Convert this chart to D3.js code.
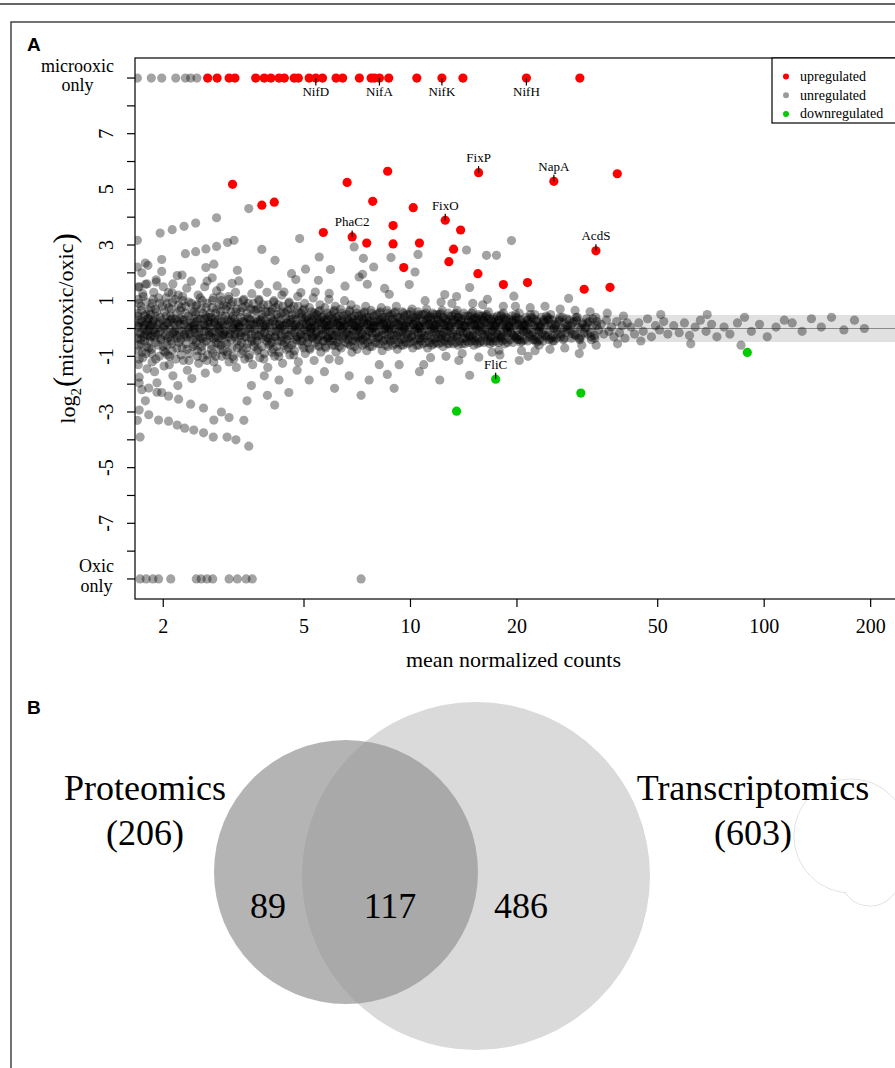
<!DOCTYPE html>
<html><head><meta charset="utf-8">
<script src="https://cdn.jsdelivr.net/npm/d3@7"></script>
<style>body{margin:0;background:#fff}</style>
</head><body>
<svg id="c" width="895" height="1068"></svg>
<script>
// ---------------- DATA ----------------
const xTicks = [2, 5, 10, 20, 50, 100, 200];
const yTicks = [-9,-8,-7,-6,-5,-4,-3,-2,-1,0,1,2,3,4,5,6,7,8,9];
const yTickLabels = {"-7":"-7","-5":"-5","-3":"-3","-1":"-1","1":"1","3":"3","5":"5","7":"7"};
const MICRO_ONLY = 9, OXIC_ONLY = -9;
const legendItems = ["upregulated", "unregulated", "downregulated"];

const microOnlyUnreg = [1.69,1.85,1.98,2.17,2.31,2.39,2.49];
const microOnlyUp = [2.67,2.84,3.07,3.19,3.65,3.86,4.03,4.25,4.40,4.69,4.82,5.17,5.40,5.64,6.16,6.43,7.17,7.74,7.91,8.17,8.68,10.42,12.27,14.07,21.27,30.12];
const oxicOnlyUnreg = [1.72,1.79,1.87,1.94,2.10,2.48,2.56,2.66,2.76,3.07,3.24,3.43,3.57,7.25];

const upregulated = [[3.14,5.18],[3.80,4.43],[4.12,4.54],[5.67,3.45],[6.62,5.25],[6.84,3.29],[7.52,3.07],[7.82,4.57],[8.62,5.65],[8.93,3.70],[8.93,3.04],[9.57,2.19],[10.18,4.34],[10.60,3.07],[12.54,3.89],[12.84,2.40],[13.24,2.85],[13.86,3.54],[15.51,1.97],[15.58,5.60],[18.31,1.58],[21.42,1.65],[25.43,5.29],[30.98,1.41],[33.44,2.79],[36.65,1.48],[38.43,5.56]];
const downregulated = [[13.50,-2.97],[17.41,-1.82],[30.31,-2.32],[89.6,-0.86]];

const labelledGenes = [["NifD",5.40,9],["NifA",8.17,9],["NifK",12.27,9],["NifH",21.27,9],["FixP",15.58,5.60],["NapA",25.43,5.29],["FixO",12.54,3.89],["PhaC2",6.84,3.29],["AcdS",33.44,2.79],["FliC",17.41,-1.82]];

const unregLow = [
[1.69,0.1],[1.69,-0.35],[1.69,0.55],[1.70,-0.8],[1.70,1.05],[1.70,-1.3],[1.71,1.5],[1.71,-1.75],[1.72,0.3],[1.72,-0.15],[1.73,0.8],[1.73,-0.55],[1.74,2.0],[1.74,-2.2],[1.75,1.25],[1.75,-1.05],[1.76,0.0],[1.77,0.45],[1.77,-0.45],[1.78,2.35],[1.78,-2.6],[1.79,0.95],[1.79,-0.9],[1.80,1.6],[1.80,-1.45],[1.81,0.2],[1.81,-0.25],[1.82,0.65],[1.82,-0.7],[1.69,3.17],[1.69,2.21],[1.70,1.49],[1.81,2.27],[1.78,1.59],[1.71,-1.96],[1.71,-2.93],[1.72,-3.9],[1.69,-3.3],
[1.83,0.05],[1.84,-0.3],[1.84,0.5],[1.85,-0.75],[1.86,0.9],[1.86,-1.2],[1.87,0.25],[1.88,-0.05],[1.88,1.3],[1.89,-1.55],[1.90,0.7],[1.90,-0.5],[1.91,1.75],[1.92,-1.95],[1.93,0.15],[1.93,-0.2],[1.94,1.1],[1.95,-1.0],[1.96,0.4],[1.97,-0.4],[1.98,2.05],[1.98,-2.3],[1.99,0.8],[2.00,-0.65],[2.00,1.5],[2.01,-1.35],[1.91,1.67],[1.98,2.48],[1.96,3.43],[1.82,-2.14],[1.92,-2.29],[1.82,-3.1],[1.94,-3.29],
[2.02,0.1],[2.03,-0.25],[2.04,0.45],[2.05,-0.6],[2.05,0.9],[2.06,-0.95],[2.07,1.3],[2.08,-1.3],[2.09,0.0],[2.10,0.3],[2.10,-0.45],[2.11,0.7],[2.12,-0.8],[2.13,1.6],[2.13,-1.7],[2.14,0.2],[2.15,-0.1],[2.16,1.05],[2.17,-1.1],[2.18,0.55],[2.19,-0.35],[2.19,1.9],[2.20,-2.05],[2.21,0.85],[2.12,1.28],[2.12,3.55],[2.26,1.92],[2.07,-2.43],[2.07,-3.33],[2.19,-3.47],[2.21,-2.54],
[2.22,-0.05],[2.23,0.35],[2.24,-0.4],[2.25,0.75],[2.26,-0.7],[2.27,1.15],[2.28,-1.15],[2.29,0.15],[2.30,-0.2],[2.31,0.55],[2.32,-0.55],[2.33,1.45],[2.34,-1.5],[2.35,0.0],[2.36,0.95],[2.37,-0.9],[2.38,0.3],[2.39,-0.3],[2.40,1.7],[2.41,-1.8],[2.42,0.6],[2.43,-0.65],[2.44,0.1],[2.29,3.67],[2.31,2.69],[2.39,-2.72],[2.30,-3.58],[2.44,-3.65],
[2.45,0.2],[2.46,-0.15],[2.47,0.5],[2.48,-0.5],[2.49,0.85],[2.50,-0.8],[2.51,1.2],[2.52,-1.25],[2.53,0.0],[2.54,0.35],[2.55,-0.35],[2.56,0.7],[2.57,-0.65],[2.58,1.0],[2.59,-1.05],[2.60,0.15],[2.61,-0.1],[2.62,1.5],[2.63,-1.6],[2.64,0.45],[2.65,-0.45],[2.66,0.9],[2.67,-0.95],[2.68,0.25],[2.69,-0.25],[2.47,3.79],[2.47,2.76],[2.64,2.86],[2.64,2.19],[2.66,1.70],[2.60,-2.86],[2.60,-3.75],
[2.71,0.05],[2.72,-0.3],[2.73,0.4],[2.74,-0.6],[2.75,0.75],[2.76,-0.9],[2.77,1.1],[2.78,-1.2],[2.79,0.2],[2.80,-0.1],[2.81,0.55],[2.82,-0.5],[2.83,1.35],[2.84,-1.45],[2.85,0.0],[2.86,0.3],[2.87,-0.35],[2.88,0.85],[2.89,-0.75],[2.90,0.6],[2.91,-0.6],[2.92,1.0],[2.93,-1.0],[2.94,0.15],[2.96,-0.2],[2.75,1.82],[2.78,2.31],[2.83,2.95],[2.83,3.98],[2.91,1.49],[2.77,-3.9],[2.78,-3.29],[2.92,-3.0],
[2.98,0.1],[2.99,-0.2],[3.00,0.45],[3.02,-0.55],[3.03,0.8],[3.04,-0.85],[3.06,1.15],[3.07,-1.2],[3.08,0.25],[3.10,-0.05],[3.11,0.6],[3.12,-0.4],[3.14,0.95],[3.15,-1.0],[3.16,0.0],[3.18,0.35],[3.19,-0.3],[3.20,1.3],[3.22,-1.4],[3.23,0.7],[3.24,-0.7],[3.25,0.15],[3.26,-0.15],[3.04,3.09],[3.13,1.62],[3.17,3.17],[3.24,2.09],[3.27,1.71],[3.03,-3.9],[3.21,-4.0],[3.07,-3.2],
[3.28,0.05],[3.30,-0.25],[3.31,0.4],[3.33,-0.5],[3.35,0.75],[3.36,-0.8],[3.38,1.05],[3.40,-1.1],[3.41,0.2],[3.43,-0.1],[3.45,0.55],[3.46,-0.55],[3.48,0.9],[3.50,-0.95],[3.51,0.0],[3.53,0.3],[3.55,-0.35],[3.56,1.25],[3.58,-1.3],[3.60,0.65],[3.61,-0.65],[3.49,4.31],[3.49,-4.23],[3.38,-3.3],[3.45,-2.6],[3.55,-2.05],
[3.62,0.1],[3.64,-0.2],[3.66,0.35],[3.68,-0.45],[3.70,0.7],[3.71,-0.75],[3.73,1.0],[3.75,-1.05],[3.77,0.2],[3.79,-0.05],[3.80,0.5],[3.82,-0.35],[3.84,0.85],[3.86,-0.9],[3.88,0.0],[3.89,0.3],[3.91,-0.3],[3.93,1.3],[3.95,-1.4],[3.96,0.6],[3.98,-0.6],[3.73,1.59],[3.80,2.84],[3.86,-1.7],[3.94,-2.4],
[3.99,0.05],[4.01,-0.25],[4.03,0.4],[4.05,-0.5],[4.07,0.7],[4.09,-0.75],[4.11,1.0],[4.13,-1.0],[4.15,0.15],[4.17,-0.1],[4.19,0.5],[4.21,-0.45],[4.23,0.85],[4.25,-0.85],[4.27,0.0],[4.29,0.3],[4.31,-0.3],[4.33,1.2],[4.35,-1.25],[4.37,0.6],[4.39,-0.6],[4.14,2.45],[4.20,1.53],[4.39,1.31],[4.25,-1.85],[4.13,-2.75],
[4.40,0.1],[4.42,-0.2],[4.45,0.35],[4.47,-0.4],[4.49,0.65],[4.52,-0.7],[4.54,0.95],[4.56,-0.95],[4.59,0.2],[4.61,-0.05],[4.63,0.5],[4.66,-0.5],[4.68,0.8],[4.70,-0.8],[4.73,0.0],[4.75,0.3],[4.77,-0.3],[4.80,1.15],[4.82,-1.2],[4.84,0.55],[4.61,1.97],[4.74,1.76],[4.86,3.23],[4.78,-1.5],[4.53,-2.3]
];

const unregMid = [
[4.86,0.05],[4.89,-0.25],[4.91,0.4],[4.94,-0.45],[4.96,0.65],[4.99,-0.7],[5.02,0.9],[5.04,-0.9],[5.07,0.15],[5.10,-0.1],[5.12,0.45],[5.15,-0.4],[5.18,0.75],[5.20,-0.75],[5.23,0.0],[5.26,0.25],[5.28,-0.3],[5.31,1.1],[5.34,-1.15],[5.35,0.55],[4.90,1.29],[5.05,2.13],[5.38,1.31],[5.17,-1.85],
[5.37,0.1],[5.40,-0.2],[5.43,0.35],[5.46,-0.4],[5.49,0.6],[5.52,-0.65],[5.55,0.85],[5.58,-0.85],[5.61,0.2],[5.64,-0.05],[5.67,0.45],[5.70,-0.45],[5.73,0.75],[5.76,-0.7],[5.79,0.0],[5.82,0.3],[5.85,-0.3],[5.88,1.05],[5.89,-1.1],[5.49,1.73],[5.52,2.57],[5.89,1.26],[5.71,-1.55],
[5.92,0.05],[5.95,-0.25],[5.99,0.35],[6.02,-0.45],[6.06,0.6],[6.09,-0.6],[6.13,0.8],[6.16,-0.85],[6.20,0.15],[6.23,-0.1],[6.27,0.45],[6.30,-0.4],[6.34,0.7],[6.37,-0.7],[6.41,0.0],[6.44,0.25],[6.48,-0.25],[6.51,1.0],[5.94,2.12],[6.53,1.52],[6.28,-1.15],[6.10,-2.15],
[6.55,0.1],[6.59,-0.2],[6.63,0.35],[6.67,-0.4],[6.71,0.6],[6.75,-0.6],[6.79,0.85],[6.83,-0.85],[6.87,0.2],[6.91,-0.05],[6.95,0.45],[6.99,-0.45],[7.03,0.7],[7.07,-0.75],[7.11,0.0],[7.14,0.3],[7.16,-0.3],[6.93,2.93],[7.16,1.85],[6.71,-1.7],
[7.20,0.05],[7.25,-0.25],[7.29,0.35],[7.34,-0.4],[7.38,0.55],[7.43,-0.55],[7.47,0.8],[7.52,-0.8],[7.56,0.15],[7.61,-0.1],[7.65,0.4],[7.70,-0.4],[7.74,0.65],[7.79,-0.65],[7.83,0.0],[7.88,0.25],[7.32,1.95],[7.36,2.52],[7.55,1.59],[7.87,2.21],[7.64,-1.85],[7.25,-2.4],
[7.95,0.1],[8.00,-0.2],[8.06,0.3],[8.11,-0.35],[8.16,0.55],[8.21,-0.55],[8.27,0.75],[8.32,-0.8],[8.37,0.2],[8.43,-0.05],[8.48,0.4],[8.53,-0.4],[8.59,0.65],[8.64,-0.65],[8.70,0.0],[8.45,1.44],[8.71,1.23],[8.16,-1.3],[8.60,-1.65],
[8.76,0.05],[8.82,-0.25],[8.88,0.35],[8.94,-0.4],[9.00,0.55],[9.06,-0.55],[9.12,0.8],[9.18,-0.75],[9.24,0.15],[9.30,-0.1],[9.36,0.4],[9.42,-0.4],[9.48,0.6],[9.54,-0.6],[9.60,0.0],[8.81,2.55],[8.99,-2.15],[9.29,-1.3],
[9.68,0.1],[9.75,-0.2],[9.81,0.3],[9.88,-0.35],[9.95,0.5],[10.0,-0.5],[10.1,0.7],[10.15,-0.7],[10.2,0.15],[10.28,-0.05],[10.35,0.4],[10.42,-0.4],[10.5,0.6],[10.55,-0.6],[10.6,0.0],[9.92,1.58],[10.3,2.03],[10.5,2.66],[10.6,-1.55],
[10.65,0.05],[10.73,-0.25],[10.8,0.3],[10.88,-0.35],[10.95,0.5],[11.03,-0.5],[11.1,0.7],[11.18,-0.7],[11.25,0.15],[11.33,-0.1],[11.4,0.4],[11.48,-0.4],[11.55,0.55],[11.63,-0.55],[11.7,0.0],[11.0,1.0],[11.4,-1.05],[10.9,-1.3],
[11.78,0.1],[11.86,-0.2],[11.95,0.3],[12.03,-0.35],[12.11,0.5],[12.2,-0.5],[12.28,0.65],[12.36,-0.65],[12.45,0.15],[12.53,-0.05],[12.62,0.35],[12.7,-0.35],[12.78,0.55],[12.87,-0.55],[12.1,-1.85],[12.5,1.22],[12.2,0.95],[12.6,-1.0],
[12.95,0.05],[13.05,-0.25],[13.15,0.3],[13.25,-0.3],[13.35,0.5],[13.45,-0.5],[13.55,0.65],[13.65,-0.6],[13.75,0.15],[13.85,-0.1],[13.95,0.35],[14.05,-0.35],[14.15,0.55],[14.25,-0.55],[13.7,-1.15],[13.1,0.9],[14.0,-0.9],[13.5,1.15],
[14.35,0.1],[14.45,-0.2],[14.56,0.3],[14.67,-0.3],[14.78,0.45],[14.89,-0.45],[15.0,0.6],[15.1,-0.6],[15.2,0.1],[15.3,-0.05],[15.4,0.35],[15.5,-0.35],[15.6,0.5],[15.7,-0.5],[14.4,2.82],[14.7,1.47],[14.7,-1.68],[15.6,-1.03],[15.0,0.9],
[15.8,0.05],[15.95,-0.2],[16.1,0.3],[16.2,-0.3],[16.35,0.45],[16.5,-0.45],[16.6,0.6],[16.75,-0.55],[16.9,0.1],[17.0,-0.05],[17.15,0.35],[17.3,-0.35],[16.4,2.63],[16.0,0.85],[17.0,-0.85],[16.5,1.05],
[17.4,0.1],[17.55,-0.2],[17.7,0.3],[17.85,-0.3],[18.0,0.45],[18.15,-0.45],[18.3,0.55],[18.5,-0.55],[18.65,0.05],[18.8,-0.1],[18.95,0.35],[17.5,2.63],[17.8,-0.78],[18.3,0.8],[17.9,-0.95],
[19.1,0.05],[19.3,-0.2],[19.5,0.3],[19.7,-0.3],[19.9,0.4],[20.1,-0.4],[20.3,0.55],[20.5,-0.5],[20.7,0.1],[20.9,-0.1],[19.3,3.16],[19.6,1.16],[20.3,-1.15],[19.8,0.8],[20.6,-0.8],
[21.1,0.1],[21.3,-0.15],[21.5,0.3],[21.75,-0.3],[22.0,0.4],[22.2,-0.4],[22.45,0.5],[22.7,-0.5],[22.9,0.05],[23.1,-0.05],[21.8,0.75],[22.5,-0.8],[21.5,-1.0],
[23.3,0.1],[23.6,-0.2],[23.85,0.3],[24.1,-0.3],[24.4,0.4],[24.65,-0.4],[24.9,0.5],[25.2,-0.45],[25.4,0.0],[23.1,-0.6],[24.0,0.8],[24.8,-0.75],
[25.7,0.1],[26.0,-0.2],[26.3,0.25],[26.6,-0.3],[26.9,0.4],[27.2,-0.35],[27.5,0.05],[27.8,-0.05],[28.1,0.3],[28.0,1.08],[26.5,0.7],[27.3,-0.7],
[28.4,0.1],[28.7,-0.2],[29.0,0.25],[29.3,-0.25],[29.6,0.4],[30.0,-0.35],[30.3,0.0],[30.6,0.2],[31.0,-0.15],[29.2,0.65],[30.5,-0.6],[30.0,-0.9],
[31.3,0.05],[31.7,-0.2],[32.0,0.25],[32.4,-0.3],[32.8,0.35],[33.2,-0.35],[33.6,0.1],[34.0,-0.05],[32.2,0.6],[33.5,-0.6]
];

const unregCore = [
[1.70,0.05],[1.72,-0.2],[1.74,0.25],[1.76,-0.3],[1.78,0.15],[1.80,-0.1],[1.81,0.35],[1.82,-0.05],
[1.84,0.1],[1.86,-0.25],[1.88,0.3],[1.9,-0.15],[1.92,0.0],[1.95,0.2],[1.97,-0.35],[2.0,0.05],
[2.03,-0.05],[2.06,0.2],[2.08,-0.3],[2.11,0.35],[2.13,-0.15],[2.16,0.1],[2.18,-0.25],[2.2,0.25],
[2.23,0.15],[2.26,-0.1],[2.29,0.3],[2.32,-0.3],[2.35,0.05],[2.38,-0.2],[2.41,0.2],[2.43,-0.05],
[2.46,0.0],[2.49,0.25],[2.52,-0.2],[2.55,0.1],[2.58,-0.35],[2.62,0.35],[2.65,-0.1],[2.68,0.15],
[2.72,0.2],[2.75,-0.15],[2.79,0.35],[2.82,-0.3],[2.86,0.05],[2.89,-0.05],[2.92,0.25],[2.95,-0.25],
[2.99,-0.1],[3.03,0.15],[3.07,-0.3],[3.11,0.3],[3.15,0.0],[3.19,-0.2],[3.22,0.2],[3.26,0.05],
[3.29,0.1],[3.33,-0.15],[3.38,0.25],[3.42,-0.3],[3.46,0.0],[3.5,0.35],[3.55,-0.2],[3.59,0.15],
[3.63,-0.05],[3.68,0.2],[3.72,-0.25],[3.77,0.3],[3.82,0.05],[3.86,-0.15],[3.91,0.15],[3.96,-0.35],
[4.0,0.2],[4.05,-0.1],[4.1,0.3],[4.15,-0.3],[4.2,0.0],[4.25,0.15],[4.3,-0.2],[4.36,0.1],
[4.41,-0.05],[4.46,0.2],[4.52,-0.25],[4.57,0.3],[4.63,0.05],[4.68,-0.15],[4.74,0.15],[4.8,-0.3],
[4.86,0.1],[4.9,-0.2],[4.95,0.25],[5.0,-0.05],[5.04,0.35],[5.09,-0.3],[5.13,0.05],[5.18,0.2],[5.22,-0.15],[5.26,0.0],[5.3,0.3],[5.34,-0.25],
[5.37,0.05],[5.42,-0.1],[5.46,0.2],[5.51,-0.3],[5.55,0.3],[5.6,0.0],[5.65,-0.2],[5.69,0.15],[5.74,-0.05],[5.78,0.25],[5.83,-0.35],[5.87,0.1],
[5.92,-0.1],[5.97,0.15],[6.02,-0.25],[6.07,0.3],[6.12,0.0],[6.17,-0.15],[6.22,0.2],[6.27,-0.3],[6.32,0.1],[6.37,0.25],[6.42,-0.05],[6.48,0.05],
[6.55,0.15],[6.6,-0.15],[6.65,0.3],[6.7,-0.25],[6.76,0.0],[6.81,0.2],[6.86,-0.1],[6.92,0.1],[6.97,-0.3],[7.02,0.25],[7.08,-0.05],[7.13,0.05],
[7.2,-0.05],[7.26,0.2],[7.32,-0.2],[7.38,0.3],[7.44,0.05],[7.5,-0.3],[7.56,0.15],[7.62,-0.1],[7.68,0.25],[7.74,0.0],[7.8,-0.15],[7.86,0.1],
[7.94,0.05],[8.0,-0.15],[8.07,0.25],[8.13,-0.3],[8.2,0.1],[8.26,0.3],[8.33,-0.05],[8.4,0.15],[8.46,-0.2],[8.53,0.0],[8.6,0.2],[8.66,-0.1],
[8.75,0.15],[8.82,-0.05],[8.9,0.3],[8.97,-0.25],[9.05,0.0],[9.12,0.2],[9.2,-0.15],[9.27,0.1],[9.35,-0.3],[9.42,0.25],[9.5,-0.1],[9.57,0.05],
[9.67,-0.05],[9.75,0.2],[9.83,-0.2],[9.92,0.3],[10.0,0.05],[10.08,-0.3],[10.17,0.15],[10.25,-0.1],[10.33,0.25],[10.42,0.0],[10.5,-0.15],[10.58,0.1],
[10.67,0.05],[10.76,-0.15],[10.85,0.25],[10.94,-0.25],[11.03,0.1],[11.12,0.3],[11.21,-0.05],[11.3,0.15],[11.4,-0.3],[11.49,0.0],[11.58,0.2],[11.67,-0.1],
[11.77,0.15],[11.87,-0.05],[11.97,0.3],[12.07,-0.2],[12.17,0.0],[12.27,0.2],[12.37,-0.15],[12.47,0.1],[12.57,-0.3],[12.67,0.25],[12.77,-0.1],[12.87,0.05],
[12.98,-0.05],[13.09,0.2],[13.2,-0.2],[13.31,0.3],[13.42,0.05],[13.53,-0.3],[13.64,0.15],[13.75,-0.1],[13.86,0.25],[13.97,0.0],[14.08,-0.15],[14.2,0.1],
[14.33,0.05],[14.45,-0.15],[14.57,0.25],[14.69,-0.25],[14.81,0.1],[14.93,0.3],[15.05,-0.05],[15.17,0.15],[15.29,-0.3],[15.41,0.0],[15.53,0.2],[15.65,-0.1],
[15.8,0.15],[15.93,-0.05],[16.06,0.3],[16.19,-0.2],[16.32,0.0],[16.45,0.2],[16.58,-0.15],[16.71,0.1],[16.84,-0.3],[16.97,0.25],[17.1,-0.1],[17.23,0.05],
[17.38,-0.05],[17.52,0.2],[17.66,-0.2],[17.8,0.3],[17.94,0.05],[18.08,-0.3],[18.22,0.15],[18.36,-0.1],[18.5,0.25],[18.64,0.0],[18.78,-0.15],[18.92,0.1],
[19.08,0.05],[19.24,-0.15],[19.4,0.25],[19.56,-0.25],[19.72,0.1],[19.88,0.3],[20.04,-0.05],[20.2,0.15],[20.36,-0.3],[20.52,0.0],[20.68,0.2],[20.84,-0.1],
[21.0,0.15],[21.2,-0.05],[21.4,0.3],[21.6,-0.2],[21.8,0.0],[22.0,0.2],[22.2,-0.15],[22.4,0.1],[22.6,-0.3],[22.8,0.25],[23.0,-0.1],
[23.25,0.05],[23.5,-0.15],[23.75,0.25],[24.0,-0.25],[24.25,0.1],[24.5,0.3],[24.75,-0.05],[25.0,0.15],[25.25,-0.3],[25.45,0.0],
[25.7,0.15],[26.0,-0.05],[26.3,0.3],[26.6,-0.2],[26.9,0.0],[27.2,0.2],[27.5,-0.15],[27.8,0.1],
[28.3,-0.05],[28.7,0.2],[29.1,-0.2],[29.5,0.3],[29.9,0.05],[30.3,-0.3],[30.7,0.15],
[31.2,0.0],[31.7,0.2],[32.2,-0.15],[32.7,0.1],[33.2,-0.25],[33.7,0.25]
];

// further unregulated genes filling the body of the cloud
const unregSpread = [
[1.695,0.45],[1.70,-0.6],[1.705,0.9],[1.71,-1.1],[1.715,0.2],[1.725,-0.4],[1.735,0.65],[1.745,-0.85],[1.755,1.15],[1.765,0.1],[1.775,-0.2],[1.785,0.5],[1.795,-0.65],[1.815,0.35],
[1.835,-0.45],[1.845,0.75],[1.855,-0.9],[1.865,0.15],[1.875,1.05],[1.885,-0.3],[1.895,0.45],[1.905,-1.1],[1.915,0.6],[1.935,-0.6],[1.955,0.9],[1.965,-0.1],[1.985,0.3],[2.005,-0.8],
[2.015,0.6],[2.025,-0.85],[2.035,1.1],[2.045,0.2],[2.055,-0.35],[2.075,0.75],[2.085,-1.0],[2.095,0.45],[2.115,-0.55],[2.125,0.95],[2.145,-0.2],[2.165,0.35],[2.185,-0.7],[2.205,1.2],
[2.215,-0.5],[2.235,0.65],[2.245,-0.95],[2.265,0.3],[2.275,1.0],[2.295,-0.25],[2.315,0.8],[2.335,-0.75],[2.355,0.45],[2.365,-1.15],[2.385,0.05],[2.405,0.9],[2.425,-0.4],[2.445,0.6],
[2.455,-0.6],[2.475,0.8],[2.495,-1.0],[2.505,0.35],[2.525,-0.3],[2.545,1.1],[2.565,-0.8],[2.585,0.55],[2.605,-0.5],[2.625,0.1],[2.645,0.75],[2.655,-1.15],[2.675,0.4],[2.695,-0.15],
[2.715,0.55],[2.735,-0.75],[2.755,1.0],[2.775,-0.35],[2.795,0.25],[2.815,-1.0],[2.835,0.7],[2.855,-0.55],[2.875,0.1],[2.895,1.15],[2.915,-0.25],[2.935,0.45],[2.955,-0.8],[2.965,0.85],
[2.985,-0.5],[3.005,0.7],[3.025,-0.95],[3.045,0.3],[3.065,1.05],[3.085,-0.2],[3.105,0.85],[3.125,-0.7],[3.145,0.45],[3.165,-1.1],[3.185,0.15],[3.205,0.6],[3.235,-0.45],[3.255,0.95],
[3.285,-0.6],[3.305,0.6],[3.325,-0.9],[3.345,0.25],[3.365,1.0],[3.39,-0.3],[3.415,0.8],[3.44,-0.7],[3.465,0.4],[3.49,-1.05],[3.515,0.15],[3.54,0.7],[3.565,-0.45],[3.595,0.9],
[3.625,-0.5],[3.65,0.65],[3.675,-0.8],[3.70,0.25],[3.725,1.05],[3.75,-0.25],[3.775,0.75],[3.80,-0.65],[3.825,0.4],[3.85,-1.1],[3.875,0.1],[3.90,0.6],[3.925,-0.45],[3.955,0.85],
[4.0,-0.55],[4.025,0.6],[4.055,-0.85],[4.08,0.25],[4.105,0.95],[4.135,-0.3],[4.16,0.75],[4.19,-0.65],[4.215,0.4],[4.245,-1.0],[4.27,0.1],[4.30,0.55],[4.33,-0.45],[4.36,0.8],
[4.405,-0.5],[4.435,0.55],[4.465,-0.75],[4.495,0.2],[4.525,0.9],[4.555,-0.25],[4.585,0.7],[4.615,-0.6],[4.645,0.35],[4.675,-0.95],[4.705,0.1],[4.735,0.5],[4.765,-0.4],[4.805,0.8],
[4.87,-0.45],[4.905,0.55],[4.94,-0.6],[4.975,0.15],[5.01,0.7],[5.045,-0.2],[5.08,0.4],[5.115,-0.5],[5.15,0.3],[5.185,-0.7],[5.22,0.05],[5.255,0.6],[5.29,-0.35],[5.325,0.45],
[5.385,-0.5],[5.425,0.5],[5.465,-0.6],[5.505,0.2],[5.545,0.65],[5.585,-0.25],[5.625,0.4],[5.665,-0.45],[5.705,0.3],[5.745,-0.65],[5.785,0.1],[5.815,0.55],[5.845,-0.35],[5.875,0.45],
[5.93,-0.45],[5.97,0.5],[6.01,-0.6],[6.05,0.2],[6.09,0.65],[6.13,-0.25],[6.17,0.4],[6.21,-0.5],[6.25,0.3],[6.29,-0.65],[6.33,0.1],[6.38,0.55],[6.43,-0.35],[6.47,0.45],
[6.57,-0.5],[6.61,0.5],[6.65,-0.55],[6.69,0.2],[6.73,0.65],[6.78,-0.25],[6.82,0.4],[6.86,-0.45],[6.9,0.3],[6.94,-0.65],[6.99,0.1],[7.04,0.55],[7.09,-0.35],[7.13,0.45],
[7.22,-0.45],[7.27,0.5],[7.32,-0.6],[7.37,0.2],[7.42,0.6],[7.47,-0.25],[7.52,0.4],[7.57,-0.5],[7.62,0.3],[7.67,-0.65],[7.72,0.1],[7.77,0.55],[7.82,-0.35],[7.87,0.45],
[7.97,-0.5],[8.03,0.5],[8.09,-0.55],[8.15,0.2],[8.21,0.6],[8.27,-0.25],[8.33,0.4],[8.39,-0.45],[8.45,0.3],[8.51,-0.6],[8.57,0.1],[8.62,0.55],[8.67,-0.35],[8.69,0.45],
[8.78,-0.45],[8.85,0.5],[8.92,-0.6],[8.99,0.2],[9.06,0.6],[9.13,-0.25],[9.2,0.4],[9.27,-0.5],[9.34,0.3],[9.41,-0.6],[9.48,0.1],[9.55,0.55],[9.58,-0.35],[9.6,0.45],
[9.7,-0.5],[9.78,0.5],[9.86,-0.55],[9.94,0.2],[10.02,0.6],[10.1,-0.25],[10.18,0.4],[10.26,-0.45],[10.34,0.3],[10.42,-0.6],[10.5,0.1],[10.56,0.5],[10.59,-0.35],[10.45,0.45],
[10.69,-0.45],[10.78,0.5],[10.87,-0.55],[10.96,0.2],[11.05,0.55],[11.14,-0.25],[11.23,0.4],[11.32,-0.5],[11.41,0.3],[11.5,-0.6],[11.59,0.1],[11.65,0.5],[11.69,-0.35],[11.35,0.45],
[11.8,-0.5],[11.9,0.5],[12.0,-0.55],[12.1,0.2],[12.2,0.55],[12.3,-0.25],[12.4,0.4],[12.5,-0.45],[12.6,0.3],[12.7,-0.55],[12.8,0.1],[12.85,0.45],[12.25,-0.35],[11.95,0.4],
[13.0,-0.45],[13.11,0.45],[13.22,-0.55],[13.33,0.2],[13.44,0.55],[13.55,-0.25],[13.66,0.4],[13.77,-0.45],[13.88,0.3],[13.99,-0.55],[14.1,0.1],[14.21,0.45],[14.27,-0.35],[13.6,0.4],
[14.4,-0.45],[14.52,0.45],[14.64,-0.5],[14.76,0.2],[14.88,0.55],[15.0,-0.25],[15.12,0.35],[15.24,-0.45],[15.36,0.3],[15.48,-0.55],[15.6,0.1],[15.68,0.45],[14.95,-0.35],[15.3,0.4],
[15.85,-0.45],[15.99,0.45],[16.13,-0.5],[16.27,0.2],[16.41,0.5],[16.55,-0.25],[16.69,0.35],[16.83,-0.45],[16.97,0.3],[17.11,-0.5],[17.25,0.1],[16.2,0.4],[16.9,-0.35],[17.2,0.4],
[17.45,-0.45],[17.6,0.45],[17.75,-0.5],[17.9,0.2],[18.05,0.5],[18.2,-0.25],[18.35,0.35],[18.5,-0.4],[18.65,0.3],[18.8,-0.5],[18.95,0.1],[18.0,-0.35],[18.6,0.4],
[19.15,-0.4],[19.32,0.45],[19.49,-0.5],[19.66,0.2],[19.83,0.5],[20.0,-0.25],[20.17,0.35],[20.34,-0.4],[20.51,0.3],[20.68,-0.45],[20.85,0.1],[19.9,-0.35],
[21.05,-0.4],[21.25,0.4],[21.45,-0.45],[21.65,0.2],[21.85,0.5],[22.05,-0.25],[22.25,0.35],[22.45,-0.4],[22.65,0.3],[22.85,-0.45],[23.05,0.1],
[23.2,-0.4],[23.45,0.4],[23.7,-0.45],[23.95,0.2],[24.2,0.45],[24.45,-0.25],[24.7,0.35],[24.95,-0.35],[25.2,0.3],[25.45,-0.45],
[25.85,-0.35],[26.45,0.4],[27.05,-0.4],[27.65,0.35],[28.5,-0.35],[29.4,0.4],[30.1,-0.4],[31.5,0.35],[32.5,-0.4],[33.4,0.4]
];

const unregHigh = [
[34.6,0.15],[35.2,-0.2],[35.8,0.3],[36.4,-0.1],[37.0,0.05],[37.6,-0.3],[38.3,0.25],[39.0,-0.15],[39.7,0.1],[40.4,-0.35],[41.0,0.2],[36.0,0.55],[38.5,-0.55],[40.0,0.45],
[42.0,0.05],[43.0,-0.2],[44.2,0.2],[45.5,-0.1],[46.8,0.35],[48.0,-0.3],[49.3,0.1],[50.6,-0.05],[52.0,0.25],[53.4,-0.2],[44.8,-0.45],[51.0,0.5],
[55.5,0.1],[57.5,-0.15],[59.5,0.2],[61.5,-0.25],[63.8,0.05],[66.0,0.3],[68.5,-0.1],[71.0,0.15],[73.5,-0.3],[62.0,-0.55],[69.0,0.5],
[77.0,0.05],[80.0,-0.2],[84.0,0.2],[88.0,0.4],[92.0,-0.1],[97.0,0.15],[102,-0.3],[108,0.05],[114,0.3],[86.0,-0.6],
[120,0.2],[128,-0.1],[136,0.35],[145,0.05],[155,0.4],[168,-0.05],[180,0.3],[192,0.0]
];

const vennSets = [["Proteomics", 206], ["Transcriptomics", 603]];
const vennRegions = [["Proteomics only", 89], ["both", 117], ["Transcriptomics only", 486]];

// ---------------- DRAWING ----------------
const serif = "'Liberation Serif','Times New Roman',serif";
const sans = "'Liberation Sans',Arial,sans-serif";
const svg = d3.select("#c");
const L = 135, R = 897, T = 58, B = 599;
const x = d3.scaleLog().domain([1.664, 237.4]).range([L, R]);
const y = d3.scaleLinear().domain([-9.72, 9.72]).range([B, T]);
const GRAY = "rgba(0,0,0,0.36)", RED = "#ff0000", GREEN = "#00cd00", PR = 4.6;

svg.append("line").attr("x1",0).attr("x2",895).attr("y1",4).attr("y2",4).attr("stroke","#333").attr("stroke-width",1.5);
svg.append("rect").attr("x",11).attr("y",22).attr("width",900).attr("height",1100).attr("fill","none").attr("stroke","#444").attr("stroke-width",1.5);
svg.append("text").attr("x",27).attr("y",51).text("A").style("font-family",sans).style("font-weight","bold").style("font-size","19px");

svg.append("defs").append("clipPath").attr("id","pc").append("rect").attr("x",L).attr("y",T).attr("width",R-L).attr("height",B-T);
const plot = svg.append("g").attr("clip-path","url(#pc)");

plot.append("rect").attr("x",L).attr("width",R-L).attr("y",y(0.485)).attr("height",y(-0.485)-y(0.485)).attr("fill","#e1e1e1");
plot.append("line").attr("x1",L).attr("x2",R).attr("y1",y(0)).attr("y2",y(0)).attr("stroke","#8a8a8a").attr("stroke-width",1);

const unreg = unregLow.concat(unregMid, unregCore, unregSpread, unregHigh)
  .concat(microOnlyUnreg.map(c=>[c,MICRO_ONLY]), oxicOnlyUnreg.map(c=>[c,OXIC_ONLY]));
plot.selectAll("circle.g").data(unreg).join("circle").attr("class","g")
  .attr("cx",d=>x(d[0])).attr("cy",d=>y(d[1])).attr("r",PR).attr("fill",GRAY);

const up = upregulated.concat(microOnlyUp.map(c=>[c,MICRO_ONLY]));
plot.selectAll("circle.u").data(up).join("circle").attr("class","u")
  .attr("cx",d=>x(d[0])).attr("cy",d=>y(d[1])).attr("r",PR).attr("fill",RED);
plot.selectAll("circle.d").data(downregulated).join("circle").attr("class","d")
  .attr("cx",d=>x(d[0])).attr("cy",d=>y(d[1])).attr("r",PR).attr("fill",GREEN);

labelledGenes.forEach(([g,c,l])=>{
  const px = x(c), py = y(l), below = (l === MICRO_ONLY);
  svg.append("line").attr("x1",px).attr("x2",px).attr("y1",py).attr("y2",below?py+7.5:py-6.5).attr("stroke","#000").attr("stroke-width",1.2);
  svg.append("text").attr("x",px).attr("y",below?py+17.5:py-10.5).attr("text-anchor","middle")
    .style("font-family",serif).style("font-size","13px").text(g);
});

svg.append("rect").attr("x",L).attr("y",T).attr("width",R-L).attr("height",B-T).attr("fill","none").attr("stroke","#000").attr("stroke-width",1.2);
xTicks.forEach(t=>{
  svg.append("line").attr("x1",x(t)).attr("x2",x(t)).attr("y1",B).attr("y2",B+8).attr("stroke","#000").attr("stroke-width",1.2);
  svg.append("text").attr("x",x(t)).attr("y",632.5).attr("text-anchor","middle").style("font-family",serif).style("font-size","20px").text(t);
});
svg.append("text").attr("x",(L+892)/2).attr("y",667).attr("text-anchor","middle").style("font-family",serif).style("font-size","22px").text("mean normalized counts");
yTicks.forEach(t=>{
  svg.append("line").attr("x1",L-8).attr("x2",L).attr("y1",y(t)).attr("y2",y(t)).attr("stroke","#000").attr("stroke-width",1.2);
  const lab = yTickLabels[String(t)];
  if (lab) svg.append("text").attr("transform",`translate(106,${y(t)}) rotate(-90)`).attr("text-anchor","middle")
    .attr("dominant-baseline","central").style("font-family",serif).style("font-size","20px").text(lab);
});
function blockLabel(lines, baselines){
  const g = svg.append("g");
  const ts = lines.map((s,i)=>g.append("text").attr("y",baselines[i]).attr("text-anchor","middle")
    .style("font-family",serif).style("font-size","18px").text(s));
  const w = d3.max(ts, t=>t.node().getComputedTextLength());
  ts.forEach(t=>t.attr("x",114 - w/2));
}
blockLabel(["microoxic","only"], [y(MICRO_ONLY)-6.5, y(MICRO_ONLY)+13]);
blockLabel(["Oxic","only"], [y(OXIC_ONLY)-6.5, y(OXIC_ONLY)+13]);

const yt = svg.append("text").attr("transform",`translate(75,${(T+B)/2}) rotate(-90)`).attr("text-anchor","middle")
  .style("font-family",serif).style("font-size","22px");
yt.append("tspan").text("log");
yt.append("tspan").attr("dy",6).style("font-size","15px").text("2");
yt.append("tspan").attr("dy",-6).attr("dx",1).style("font-size","31px").text("(");
yt.append("tspan").attr("dy",-2).text("microoxic/oxic");
yt.append("tspan").attr("dy",2).style("font-size","31px").text(")");

const lg = svg.append("g");
lg.append("rect").attr("x",772).attr("y",T).attr("width",R-772).attr("height",65).attr("fill","#fff").attr("stroke","#000").attr("stroke-width",1.2);
const lcol = [RED, "#9a9a9a", GREEN];
legendItems.forEach((s,i)=>{
  const yy = 76.5 + i*18.7;
  lg.append("circle").attr("cx",786).attr("cy",yy).attr("r",3).attr("fill",lcol[i]);
  lg.append("text").attr("x",800).attr("y",yy+4.5).style("font-family",serif).style("font-size","14px").text(s);
});

// ---------------- Panel B : Venn ----------------
svg.append("text").attr("x",27).attr("y",714).text("B").style("font-family",sans).style("font-weight","bold").style("font-size","19px");
const venn = svg.append("g");
const circles = [{cx:346, cy:872, r:132}, {cx:476, cy:876, r:174}];
venn.append("circle").attr("cx",circles[1].cx).attr("cy",circles[1].cy).attr("r",circles[1].r).attr("fill","#dadada");
venn.append("circle").attr("cx",circles[0].cx).attr("cy",circles[0].cy).attr("r",circles[0].r).attr("fill","rgba(148,148,148,0.7)");
const ghost = svg.append("g");
[[851,836,57],[870,876,30]].forEach(([cx,cy,r])=>ghost.append("circle").attr("cx",cx).attr("cy",cy).attr("r",r).attr("fill","none").attr("stroke","#dedede").attr("stroke-width",1));
[[851,836,56.4],[870,876,29.4]].forEach(([cx,cy,r])=>ghost.append("circle").attr("cx",cx).attr("cy",cy).attr("r",r).attr("fill","#fff"));

const bigFont = "36px";
[[vennSets[0], 145], [vennSets[1], 753]].forEach(([s,cx])=>{
  svg.append("text").attr("x",cx).attr("y",800).attr("text-anchor","middle").style("font-family",serif).style("font-size",bigFont).text(s[0]);
  svg.append("text").attr("x",cx).attr("y",845).attr("text-anchor","middle").style("font-family",serif).style("font-size",bigFont).text(`(${s[1]})`);
});
const regionX = [268, 390, 521];
vennRegions.forEach((r,i)=>{
  svg.append("text").attr("x",regionX[i]).attr("y",918).attr("text-anchor","middle").style("font-family",serif).style("font-size",bigFont).text(r[1]);
});
</script></body></html>
